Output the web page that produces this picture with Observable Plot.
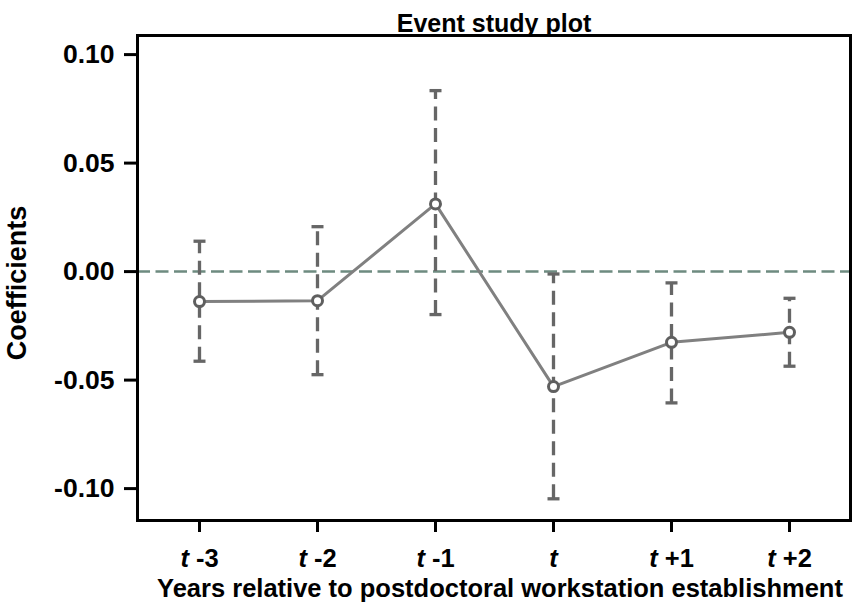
<!DOCTYPE html>
<html><head><meta charset="utf-8">
<script src="https://cdn.jsdelivr.net/npm/d3@7"></script>
<script src="https://cdn.jsdelivr.net/npm/@observablehq/plot@0.6"></script>
<style>body{margin:0;background:#fff;}</style>
</head><body><div id="chart"></div>
<script>
const periods = ["t -3", "t -2", "t -1", "t", "t +1", "t +2"];
const coefficients = [-0.0138, -0.0134, 0.0312, -0.0530, -0.0326, -0.0280];
const ciLower = [-0.0413, -0.0475, -0.0198, -0.1047, -0.0605, -0.0436];
const ciUpper = [0.0140, 0.0207, 0.0834, -0.0011, -0.0052, -0.0123];
const yTicks = [-0.10, -0.05, 0.00, 0.05, 0.10];
const titleText = "Event study plot";
const xLabel = "Years relative to postdoctoral workstation establishment";
const yLabel = "Coefficients";

const data = periods.map((p, i) => ({period: p, coef: coefficients[i], lo: ciLower[i], hi: ciUpper[i]}));

const capSymbol = {draw(ctx, size) { const r = Math.sqrt(size / Math.PI); ctx.moveTo(-r, 0); ctx.lineTo(r, 0); }};
const font = "'Liberation Sans', Arial, Helvetica, sans-serif";

const chart = Plot.plot({
  width: 854, height: 612,
  marginLeft: 137, marginRight: 4, marginTop: 35, marginBottom: 92,
  style: {fontFamily: font, fontSize: "25px", fontWeight: "bold", background: "#fff", color: "#000"},
  x: {type: "point", domain: periods, padding: 0.5},
  y: {domain: [-0.1147, 0.1088]},
  marks: [
    Plot.ruleY([0], {stroke: "#6e8b80", strokeWidth: 2.5, strokeDasharray: "13,5.5"}),
    Plot.ruleX(data, {x: "period", y1: "lo", y2: "hi", stroke: "#666666", strokeWidth: 3.3, strokeDasharray: "14,7.5"}),
    Plot.dot(data, {x: "period", y: "lo", symbol: capSymbol, r: 6, stroke: "#666666", strokeWidth: 3.3, fill: "none"}),
    Plot.dot(data, {x: "period", y: "hi", symbol: capSymbol, r: 6, stroke: "#666666", strokeWidth: 3.3, fill: "none"}),
    Plot.line(data, {x: "period", y: "coef", stroke: "#808080", strokeWidth: 3}),
    Plot.dot(data, {x: "period", y: "coef", r: 5, stroke: "#5f5f5f", strokeWidth: 3, fill: "white"}),
    Plot.frame({stroke: "#000", strokeWidth: 3}),
    Plot.axisY({ticks: yTicks, tickFormat: d => d.toFixed(2), tickSize: 13, tickPadding: 10, strokeWidth: 3, label: null, fontSize: 26.5}),
    Plot.axisX({tickSize: 12, tickPadding: 16, strokeWidth: 3, label: null, fontSize: 25.5}),
    Plot.text([titleText], {text: d => d, frameAnchor: "top", dy: -21.5, fontSize: 25, fontWeight: "bold"}),
    Plot.text([xLabel], {text: d => d, frameAnchor: "bottom", dx: 6, dy: 76.5, fontSize: 25.5, fontWeight: "bold"}),
    Plot.text([yLabel], {text: d => d, frameAnchor: "left", textAnchor: "middle", dx: -120, dy: 5, rotate: -90, fontSize: 27, fontWeight: "bold"})
  ]
});

d3.select(chart).selectAll('g[aria-label="x-axis tick label"] text').each(function() {
  const s = this.textContent;
  if (s.startsWith("t")) {
    const rest = s.slice(1);
    const sel = d3.select(this);
    sel.text(null);
    sel.append("tspan").attr("font-style", "italic").text("t");
    if (rest) sel.append("tspan").text(rest);
  }
});

document.getElementById("chart").appendChild(chart);
</script>
</body></html>
